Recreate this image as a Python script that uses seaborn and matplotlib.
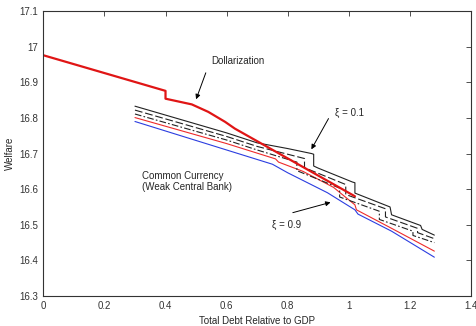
import matplotlib
matplotlib.use("Agg")
import matplotlib.pyplot as plt
import seaborn as sns

# ---- data ----
dollar_x = [0.0, 0.4, 0.4, 0.486, 0.54, 0.595, 0.627, 1.02]
dollar_y = [16.976, 16.876, 16.854, 16.838, 16.817, 16.789, 16.770, 16.580]

xi01_x = [0.3, 0.6, 0.70, 0.80, 0.878, 0.885, 0.885, 0.90, 1.012, 1.02, 1.02, 1.135, 1.14, 1.235, 1.24, 1.28]
xi01_y = [16.833, 16.758, 16.730, 16.714, 16.700, 16.698, 16.665, 16.659, 16.620, 16.618, 16.589, 16.550, 16.528, 16.498, 16.487, 16.471]

xi03_x = [0.3, 0.6, 0.70, 0.855, 0.855, 0.87, 0.99, 0.99, 1.12, 1.12, 1.225, 1.225, 1.28]
xi03_y = [16.822, 16.748, 16.720, 16.686, 16.660, 16.655, 16.613, 16.585, 16.545, 16.522, 16.490, 16.478, 16.461]

xi05_x = [0.3, 0.6, 0.70, 0.83, 0.83, 0.97, 0.97, 1.10, 1.10, 1.21, 1.21, 1.28]
xi05_y = [16.811, 16.738, 16.710, 16.676, 16.652, 16.603, 16.578, 16.538, 16.515, 16.482, 16.470, 16.450]

xi07_x = [0.3, 0.6, 0.76, 0.77, 0.85, 0.95, 1.02, 1.025, 1.14, 1.28]
xi07_y = [16.801, 16.728, 16.685, 16.676, 16.650, 16.605, 16.556, 16.542, 16.490, 16.426]

xi09_x = [0.3, 0.6, 0.75, 0.80, 0.93, 1.02, 1.03, 1.14, 1.28]
xi09_y = [16.790, 16.710, 16.670, 16.646, 16.590, 16.542, 16.530, 16.482, 16.409]

x_ticks = [0, 0.2, 0.4, 0.6, 0.8, 1.0, 1.2, 1.4]
x_tick_labels = ["0", "0.2", "0.4", "0.6", "0.8", "1", "1.2", "1.4"]
y_ticks = [16.3, 16.4, 16.5, 16.6, 16.7, 16.8, 16.9, 17.0, 17.1]
y_tick_labels = ["16.3", "16.4", "16.5", "16.6", "16.7", "16.8", "16.9", "17", "17.1"]

# ---- style ----
sns.set_style("white")
plt.rcParams["font.family"] = ["Liberation Sans", "DejaVu Sans"]
plt.rcParams.update({
    "xtick.direction": "in", "ytick.direction": "in",
    "xtick.top": True, "ytick.right": True,
    "xtick.major.size": 3.5, "ytick.major.size": 3.5,
    "xtick.major.width": 0.6, "ytick.major.width": 0.6,
    "axes.linewidth": 0.8, "axes.edgecolor": "#333333",
    "xtick.color": "#333333", "ytick.color": "#333333",
})

fig = plt.figure(figsize=(4.76, 3.26), dpi=100)
ax = fig.add_axes([0.091, 0.092, 0.8985, 0.874])

common = dict(ax=ax, estimator=None, sort=False, legend=False)
sns.lineplot(x=xi09_x, y=xi09_y, color="#2b3de0", linewidth=0.8, **common)
sns.lineplot(x=xi07_x, y=xi07_y, color="#ee2b2b", linewidth=0.8, **common)
sns.lineplot(x=xi05_x, y=xi05_y, color="#222222", linewidth=0.8, linestyle=(0, (6, 2, 1.5, 2)), **common)
sns.lineplot(x=xi03_x, y=xi03_y, color="#222222", linewidth=0.8, linestyle=(0, (7, 2.5)), **common)
sns.lineplot(x=xi01_x, y=xi01_y, color="#222222", linewidth=0.8, **common)
sns.lineplot(x=dollar_x, y=dollar_y, color="#e01515", linewidth=1.6, **common)

ax.set_xlim(0, 1.4)
ax.set_ylim(16.3, 17.1)
ax.set_xticks(x_ticks)
ax.set_xticklabels(x_tick_labels, fontsize=7)
ax.set_yticks(y_ticks)
ax.set_yticklabels(y_tick_labels, fontsize=7)
ax.set_xlabel("Total Debt Relative to GDP", fontsize=7, labelpad=4)
ax.set_ylabel("Welfare", fontsize=7, labelpad=3)
for s in ax.spines.values():
    s.set_visible(True)

arrow = dict(arrowstyle="-|>", color="black", lw=0.7, mutation_scale=7)
ax.annotate("Dollarization", xy=(0.497, 16.845), xytext=(0.551, 16.96),
            fontsize=7, ha="left", va="center", annotation_clip=False)
ax.annotate("", xy=(0.497, 16.845), xytext=(0.535, 16.934), arrowprops=arrow)

ax.annotate("ξ = 0.1", xy=(0.873, 16.705), xytext=(0.955, 16.813),
            fontsize=7, ha="left", va="center")
ax.annotate("", xy=(0.873, 16.705), xytext=(0.938, 16.805), arrowprops=arrow)

ax.annotate("ξ = 0.9", xy=(0.949, 16.565), xytext=(0.747, 16.499),
            fontsize=7, ha="left", va="center")
ax.annotate("", xy=(0.949, 16.565), xytext=(0.808, 16.532), arrowprops=arrow)

ax.text(0.322, 16.638, "Common Currency", fontsize=7, ha="left", va="center")
ax.text(0.322, 16.607, "(Weak Central Bank)", fontsize=7, ha="left", va="center")

fig.savefig("out.png", dpi=100)
